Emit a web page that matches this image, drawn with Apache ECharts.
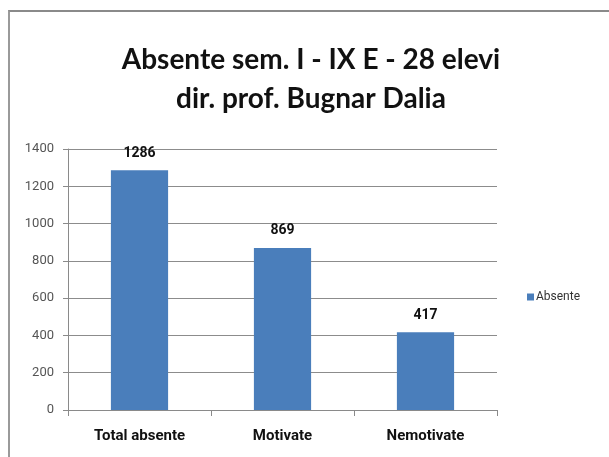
<!DOCTYPE html>
<html>
<head>
<meta charset="utf-8">
<script src="https://cdn.jsdelivr.net/npm/echarts@6/dist/echarts.min.js"></script>
<style>
    html, body {margin: 0; padding: 0; background: #fff;}
    #main {width: 609px; height: 457px;}
    #frame {position: absolute; left: 8px; top: 10px; width: 601px; height: 447px;
        border-left: 2px solid #9a9a9a; border-top: 2px solid #8a8a8a; pointer-events: none;}
</style>
</head>
<body>
<div id="main"></div>
<div id="frame"></div>
<script>
    // values
    var categories = ['Total absente', 'Motivate', 'Nemotivate'];
    var absente = [1286, 869, 417];
    var seriesName = 'Absente';
    var titleLines = ['Absente sem. I - IX E - 28 elevi', 'dir. prof. Bugnar Dalia'];

    var chart = echarts.init(document.getElementById('main'));

    var option = {
        backgroundColor: '#fff',
        animation: false,
        title: {
            text: titleLines.join('\n'),
            left: 306,
            textAlign: 'center',
            top: 35,
            textStyle: {
                fontFamily: 'Lato',
                fontWeight: 'bold',
                fontSize: 28,
                lineHeight: 39,
                color: '#111'
            }
        },
        legend: {
            data: [seriesName],
            orient: 'vertical',
            left: 522,
            top: 286,
            itemWidth: 7,
            itemHeight: 7,
            itemGap: 4,
            icon: 'rect',
            textStyle: {fontFamily: 'Roboto', fontSize: 12, color: '#333', padding: [0, 0, 0, -3]}
        },
        grid: {
            left: 68,
            right: 112,
            top: 149,
            bottom: 47
        },
        xAxis: {
            type: 'category',
            data: categories,
            axisLine: {lineStyle: {color: '#8a8a8a', width: 1}},
            axisTick: {show: true, length: 6, lineStyle: {color: '#8a8a8a'}},
            axisLabel: {
                margin: 19,
                fontFamily: 'Roboto',
                fontWeight: 'bold',
                fontSize: 15,
                color: '#111'
            }
        },
        yAxis: {
            type: 'value',
            min: 0,
            max: 1400,
            interval: 200,
            axisLine: {show: true, lineStyle: {color: '#8a8a8a'}},
            axisTick: {show: true, length: 5, lineStyle: {color: '#8a8a8a'}},
            axisLabel: {
                margin: 14,
                fontFamily: 'Roboto',
                fontSize: 13,
                color: '#555',
                formatter: function (v) { return String(v); }
            },
            splitLine: {show: true, lineStyle: {color: '#8c8c8c', width: 1}}
        },
        series: [{
            name: seriesName,
            type: 'bar',
            barWidth: '40%',
            data: absente,
            itemStyle: {color: '#4a7ebb'},
            label: {
                show: true,
                position: 'top',
                distance: 10,
                fontFamily: 'Roboto',
                fontWeight: 'bold',
                fontSize: 14,
                color: '#111'
            }
        }]
    };

    chart.setOption(option);
</script>
</body>
</html>
